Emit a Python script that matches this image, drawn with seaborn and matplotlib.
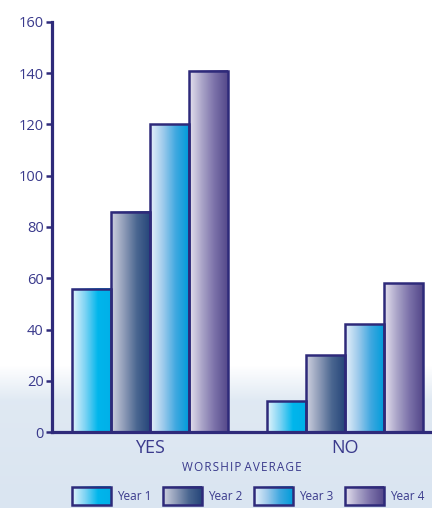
import numpy as np
import pandas as pd
import seaborn as sns
import matplotlib.pyplot as plt
from matplotlib.colors import LinearSegmentedColormap
from matplotlib.patches import Rectangle
from matplotlib.legend_handler import HandlerBase
from matplotlib.image import BboxImage
from matplotlib.transforms import Bbox, TransformedBbox

groups = ['YES', 'NO']
years = ['Year 1', 'Year 2', 'Year 3', 'Year 4']
year1 = [56, 12]
year2 = [86, 30]
year3 = [120, 42]
year4 = [141, 58]

navy = '#2e2a7a'
text_col = '#3a3a8c'
# left -> right gradient stops for each year
grad_stops = {
    'Year 1': ['#e4f5fc', '#7fd4f4', '#00b6ec', '#00b0e8'],
    'Year 2': ['#cfd2e0', '#8f9cb8', '#4a6690', '#26467a'],
    'Year 3': ['#e8f1fa', '#9fcbec', '#3fa8e0', '#009cda'],
    'Year 4': ['#e6e2ef', '#aaa4c8', '#7a70a8', '#54488a'],
}
cmaps = {y: LinearSegmentedColormap.from_list(y, c) for y, c in grad_stops.items()}
grad = np.linspace(0, 1, 256).reshape(1, -1)

df = pd.DataFrame({
    'group': groups * 4,
    'year': sum([[y] * 2 for y in years], []),
    'value': year1 + year2 + year3 + year4,
})

sns.set_style('white')
plt.rcParams['font.family'] = ['Open Sans', 'DejaVu Sans']

fig = plt.figure(figsize=(4.32, 5.08), dpi=100)

# soft bluish "water" background towards the bottom
bg = fig.add_axes([0, 0, 1, 1], zorder=-1)
rows = np.linspace(0, 1, 508)
vert = np.clip((rows - 0.72) / 0.07, 0, 1) * (0.85 + 0.15 * np.clip((rows - 0.79) / 0.2, 0, 1))
bg_cmap = LinearSegmentedColormap.from_list('bg', ['#ffffff', '#dae5f1'])
bg.imshow(vert.reshape(-1, 1), aspect='auto', cmap=bg_cmap, extent=[0, 1, 0, 1], vmin=0, vmax=1)
bg.axis('off')

ax = fig.add_axes([52 / 432, 76 / 508, 380 / 432, 410 / 508])
ax.set_facecolor('none')

mid = {y: cmaps[y](0.6) for y in years}
sns.barplot(data=df, x='group', y='value', hue='year', order=groups, hue_order=years,
            palette=mid, width=0.8, legend=False, ax=ax,
            edgecolor=navy, linewidth=1.8, saturation=1)

for cont, y in zip(ax.containers, years):
    for bar in cont:
        x0, w, h = bar.get_x(), bar.get_width(), bar.get_height()
        ax.imshow(grad, extent=[x0, x0 + w, 0, h], aspect='auto', cmap=cmaps[y], zorder=1.5)
        bar.set_facecolor('none')
        bar.set_zorder(2)

ax.set_xlim(-0.503, 1.446)
ax.set_ylim(0, 160)
ax.set_yticks(range(0, 161, 20))
sns.despine(ax=ax)
for s in ['left', 'bottom']:
    ax.spines[s].set_color(navy)
    ax.spines[s].set_linewidth(2.3)
ax.tick_params(axis='y', direction='out', length=4, width=1.8, color=navy,
               labelcolor=text_col, labelsize=10.5, pad=2, left=True)
ax.tick_params(axis='x', length=0, labelcolor=text_col, labelsize=13, pad=5)
ax.set_xlabel('W O R S H I P   A V E R A G E'.replace(' ', '\u200a').replace('\u200a\u200a\u200a', ' '),
              color=text_col, fontsize=8.5, labelpad=3)
ax.set_ylabel('')


class GradHandler(HandlerBase):
    def create_artists(self, legend, orig_handle, xdescent, ydescent, width, height, fontsize, trans):
        bb = TransformedBbox(Bbox.from_bounds(-xdescent, -ydescent, width, height), trans)
        img = BboxImage(bb, cmap=cmaps[orig_handle.get_label()], interpolation='bilinear')
        img.set_data(grad)
        rect = Rectangle((-xdescent, -ydescent), width, height, transform=trans,
                         fc='none', ec=navy, lw=1.8)
        return [img, rect]


handles = [Rectangle((0, 0), 1, 1, label=y) for y in years]
fig.legend(handles=handles, labels=years, handler_map={Rectangle: GradHandler()},
           loc='center', bbox_to_anchor=(248 / 432, 1 - 496 / 508), ncol=4, frameon=False,
           fontsize=8.5, handlelength=3.3, handleheight=2.0, handletextpad=0.5,
           columnspacing=1.0, labelcolor=text_col)

fig.savefig('out.png', dpi=100)
